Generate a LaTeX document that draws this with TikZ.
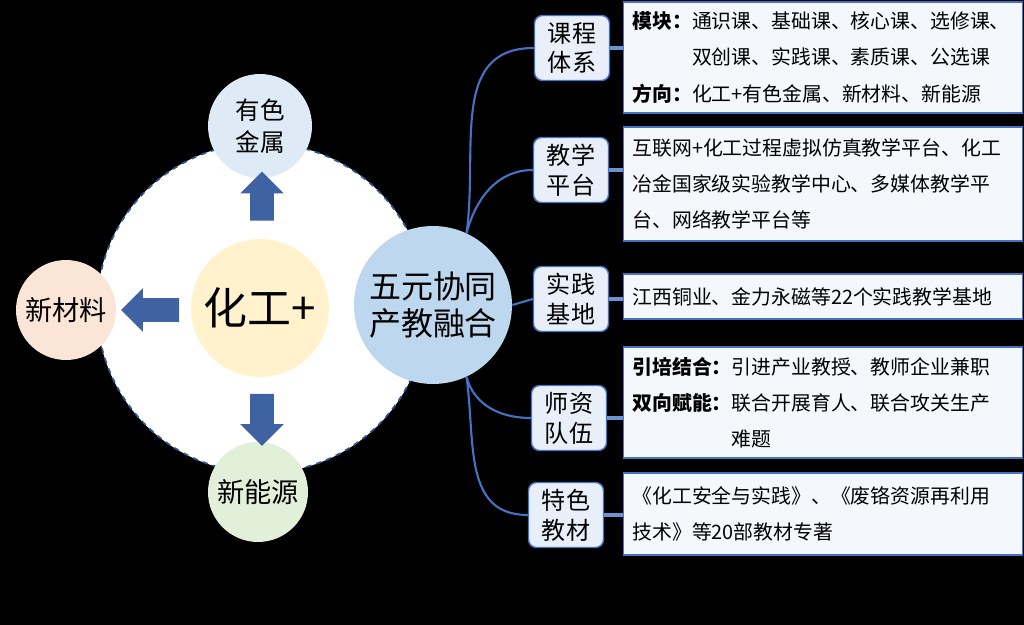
\documentclass[tikz,border=0pt]{standalone}
\usepackage{fontspec}
\setmainfont{Noto Sans CJK SC}
\usetikzlibrary{shapes.arrows, positioning, calc}
\definecolor{ringblue}{RGB}{47,85,151}
\definecolor{arrowblue}{RGB}{63,98,162}
\definecolor{linkblue}{RGB}{68,114,196}
\definecolor{stubblue}{RGB}{110,145,210}
\definecolor{metalcolor}{RGB}{222,235,247}
\definecolor{materialcolor}{RGB}{251,229,214}
\definecolor{energycolor}{RGB}{226,240,217}
\definecolor{chemcolor}{RGB}{255,242,204}
\definecolor{hubcolor}{RGB}{189,215,238}
\definecolor{tagcolor}{RGB}{233,239,248}
\definecolor{infocolor}{RGB}{244,247,252}

\begin{document}
\begin{tikzpicture}[
    x=0.02cm, y=-0.02cm,
    ring/.style={circle, draw=ringblue, dashed, line width=1pt, fill=white, minimum size=6.6cm},
    bubble/.style={circle, inner sep=0pt, align=center, font=\fontsize{15.5}{19}\selectfont},
    hub/.style={circle, fill=hubcolor, minimum size=3.16cm, inner sep=0pt, align=center, font=\fontsize{18.2}{21}\selectfont},
    tag/.style={rectangle, rounded corners=0.16cm, draw=linkblue, line width=0.8pt, fill=tagcolor, minimum width=1.5cm, minimum height=1.3cm, inner sep=0pt, align=center, font=\fontsize{13.7}{17}\selectfont},
    info/.style={rectangle, draw=linkblue, line width=0.6pt, fill=infocolor, anchor=west, text width=7.62cm, inner xsep=0.18cm, align=left, font=\fontsize{11.3}{20.5}\selectfont},
    blockarrow/.style={single arrow, fill=arrowblue, inner xsep=0pt, inner ysep=0.23cm, single arrow head extend=0.2cm},
    link/.style={draw=linkblue, line width=1.2pt},
    stub/.style={draw=stubblue, line width=2.4pt}
]

    % background
    \fill[black] (0,0) rectangle (1024,625);
    \useasboundingbox (0,0) rectangle (1024,625);

    % Chemical engineering ring
    \node[ring] (ring) at (262,308) {};
    \node[bubble, fill=metalcolor, minimum size=2.08cm, font=\fontsize{14}{18.5}\selectfont] (metal) at (260,126) {有色\\金属};
    \node[bubble, fill=materialcolor, minimum size=2cm] (material) at (66,310) {新材料};
    \node[bubble, fill=energycolor, minimum size=2cm] (energy) at (258,492) {新能源};
    \node[bubble, fill=chemcolor, minimum size=2.76cm, font=\fontsize{25}{28}\selectfont] (chem) at (260,308) {化工+};

    % Block arrows
    \node[blockarrow, rotate=90, minimum height=0.98cm] (uparrow) at (262,202) {};
    \node[blockarrow, rotate=180, minimum height=1.16cm] (leftarrow) at (156,310) {};
    \node[blockarrow, rotate=-90, minimum height=1.04cm] (downarrow) at (262,414) {};

    % Hub
    \node[hub] (hub) at (433,305) {五元协同\\产教融合};

    % Branch tags
    \node[tag] (course) at (572,48) {课程\\体系};
    \node[tag] (platform) at (571,170) {教学\\平台};
    \node[tag] (base) at (571,299) {实践\\基地};
    \node[tag] (faculty) at (569,418) {师资\\队伍};
    \node[tag] (textbook) at (566,515) {特色\\教材};

    % Info boxes
    \node[info, minimum height=2.22cm] (courseinfo) at (623,57.5) {
        \textbf{模块：}通识课、基础课、核心课、选修课、\\
        \hspace*{3em}双创课、实践课、素质课、公选课\\
        \textbf{方向：}化工+有色金属、新材料、新能源};
    \node[info, minimum height=2.28cm] (platforminfo) at (623,184) {
        互联网+化工过程虚拟仿真教学平台、化工\\
        冶金国家级实验教学中心、多媒体教学平\\
        台、网络教学平台等};
    \node[info, minimum height=0.9cm] (baseinfo) at (623,296.5) {
        江西铜业、金力永磁等22个实践教学基地};
    \node[info, minimum height=2.22cm] (facultyinfo) at (623,402.5) {
        \textbf{引培结合：}引进产业教授、教师企业兼职\\
        \textbf{双向赋能：}联合开展育人、联合攻关生产\\
        \hspace*{5em}难题};
    \node[info, minimum height=1.64cm] (textbookinfo) at (623,514) {
        《化工安全与实践》、《废铬资源再利用\\
        技术》等20部教材专著};

    % Hub links
    \draw[link] (hub.65) to[out=82, in=180, looseness=1.1] (course.west);
    \draw[link] (hub.65) to[out=75, in=180] (platform.west);
    \draw[link] (hub.east) -- (base.west);
    \draw[link] (hub.-65) to[out=-75, in=180] (faculty.west);
    \draw[link] (hub.-65) to[out=-82, in=180, looseness=1.1] (textbook.west);

    % Tag stubs
    \draw[stub] (course.east) -- (course.east -| courseinfo.west);
    \draw[stub] (platform.east) -- (platform.east -| platforminfo.west);
    \draw[stub] (base.east) -- (base.east -| baseinfo.west);
    \draw[stub] (faculty.east) -- (faculty.east -| facultyinfo.west);
    \draw[stub] (textbook.east) -- (textbook.east -| textbookinfo.west);

\end{tikzpicture}
\end{document}
